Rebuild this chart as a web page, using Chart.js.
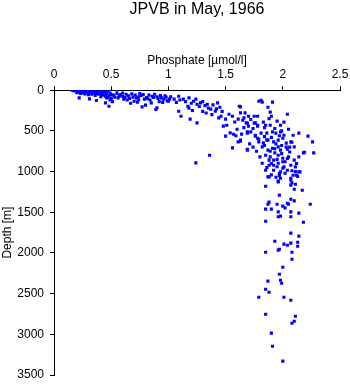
<!DOCTYPE html>
<html>
<head>
<meta charset="utf-8">
<script src="https://cdn.jsdelivr.net/npm/chart.js@4/dist/chart.umd.min.js"></script>
<style>
html,body{margin:0;padding:0;background:#fff;}
#wrap{width:350px;height:384px;}
</style>
</head>
<body>
<div id="wrap"><canvas id="c" width="350" height="384"></canvas></div>
<script>
const chartTitle = "JPVB in May, 1966";
const xTitle = "Phosphate [\u00b5mol/l]";
const yTitle = "Depth [m]";
const phosphateTicks = [0, 0.5, 1, 1.5, 2, 2.5];
const depthTicks = [0, 500, 1000, 1500, 2000, 2500, 3000, 3500];

// surface layer
const surfaceP = [0.16,0.17,0.18,0.19,0.20,0.21,0.22,0.23,0.24,0.25,
  0.26,0.27,0.28,0.29,0.30,0.31,0.32,0.33,0.34,0.35,
  0.36,0.37,0.38,0.39,0.40,0.41,0.42,0.43,0.44,0.45,
  0.46,0.47,0.48,0.49,0.50,0.20,0.23,0.27,0.30,0.33,
  0.25,0.29,0.35,0.38,0.42,0.45,0.47,0.41,0.36,0.22,
  0.31,0.37,0.45,0.48,0.46,0.52,0.55,0.57,0.53,0.50,
  0.49,0.51];
const surfaceD = [0,5,0,10,0,5,15,0,8,20,
  0,12,5,25,0,10,30,5,18,0,
  40,10,25,5,50,15,0,30,60,20,
  45,10,70,35,55,30,40,45,55,50,
  35,15,30,45,55,75,90,80,65,95,
  107,127,156,197,95,60,0,74,85,100,
  120,140];

// upper nutricline
const upperP = [0.55,0.58,0.60,0.61,0.63,0.65,0.67,0.68,0.70,0.71,
  0.73,0.74,0.75,0.77,0.78,0.80,0.81,0.83,0.85,0.86,
  0.88,0.89,0.90,0.91,0.93,0.94,0.96,0.97,0.99,1.01,
  0.62,0.66,0.72,0.79,0.84,0.87,0.92,0.95,0.98,0.60,
  0.69,0.76,0.82,0.90,0.56,0.64,0.74];
const upperD = [40,55,35,110,50,70,160,45,135,60,
  147,80,40,205,55,184,90,60,156,75,
  50,237,217,100,65,95,110,70,130,110,
  90,100,95,110,120,90,140,150,85,75,
  85,65,105,80,95,120,118];

// mid nutricline
const midP = [1.00,1.02,1.05,1.07,1.09,1.10,1.13,1.15,1.17,1.18,
  1.20,1.22,1.24,1.25,1.27,1.28,1.30,1.32,1.34,1.35,
  1.37,1.39,1.41,1.43,1.45,1.46,1.48,1.50,1.09,1.11,
  1.19,1.25,1.18,1.30,1.38,1.42,1.53,1.56,1.54,1.57,
  1.36,1.24,1.50,1.51,1.47,1.44,1.33,1.21];
const midD = [135,80,110,150,74,120,110,140,197,95,
  160,135,110,172,200,156,140,190,172,220,
  233,180,258,156,210,320,442,356,258,320,
  356,402,220,260,300,230,295,320,524,541,
  799,893,565,430,260,340,280,250];

// lower nutricline
const lowerP = [1.61,1.63,1.62,1.63,1.66,1.68,1.70,1.75,1.76,1.78,
  1.79,1.81,1.82,1.67,1.70,1.78,1.65,1.69,1.75,1.78,
  1.63,1.69,1.56,1.76,1.79,1.80,1.69,1.72,1.76,1.63,
  1.78,1.79,1.69,1.61,1.69,1.60,1.58,1.72,1.74,1.66,
  1.59,1.71,1.74,1.77,1.64];
const lowerD = [356,279,197,205,340,402,442,320,402,442,
  135,123,147,279,320,320,369,405,405,430,
  627,725,709,565,602,820,528,512,553,614,
  590,635,737,635,512,480,390,360,470,460,
  560,660,700,750,540];

// intermediate water
const interP = [1.91,1.87,1.89,1.90,2.04,1.83,1.85,1.89,1.98,2.01,
  1.81,1.86,1.91,1.94,1.98,2.01,2.09,2.14,2.22,1.83,
  1.87,1.92,1.96,2.00,2.03,2.07,2.26,1.82,1.87,1.91,
  1.96,1.98,2.04,2.10,2.18,2.27,1.85,1.89,1.96,2.00,
  2.05,2.10,2.14,1.82,1.88,1.92,1.96,2.01,2.07,2.11,
  2.14,1.85,1.92,1.98,2.04,2.09,1.87,1.94,1.98,2.07,
  2.19,1.84,1.93,1.88,1.95,2.05,1.90,1.84,1.94,1.99,
  2.06,1.93,2.02,1.88,1.95,2.08,1.90,2.00,2.12,
  1.86,1.97,2.03,1.92,2.08,1.99,1.89,2.02,1.95,2.11,
  1.84,1.93,2.00,2.06,1.97,1.90,2.04,1.86,2.13,1.99];
const interD = [147,209,270,320,295,393,430,430,430,393,
  528,528,512,528,512,553,553,528,565,647,
  614,635,614,590,651,635,635,696,737,713,
  696,737,725,696,770,770,799,819,799,836,
  819,860,819,897,922,922,897,942,922,942,
  1004,983,983,1004,983,1045,1065,1070,1082,1082,
  762,460,470,350,380,480,580,570,660,680,
  760,770,880,860,850,990,1040,960,900,
  610,560,700,860,640,780,750,1020,940,1000,
  680,720,880,700,1050,900,840,950,1060,500];

// deep water
const deepP = [1.88,1.96,1.97,2.07,2.08,2.11,2.12,2.15,1.85,2.10,
  2.17,1.97,2.07,2.10,1.88,1.87,1.95,2.00,2.04,2.05,
  2.24,1.85,1.90,2.02,2.07,1.96,2.14,1.96,1.98,2.07,
  1.85,2.18,2.07,2.14,1.93,2.01,2.04,2.07,2.13,2.13,
  1.96,1.97,1.85,2.08,2.08,2.00,1.97,1.87,1.98,1.99,
  1.85,1.88,1.79,2.01,2.07,1.85,2.11,2.10,2.08,1.90,
  1.91,2.00,2.07,1.96];
const deepD = [1065,1127,1020,1106,1139,1155,1045,1004,1180,1217,
  1229,1290,1340,1360,1376,1401,1401,1425,1389,1401,
  1401,1462,1462,1446,1495,1495,1511,1556,1548,1556,
  1610,1622,1757,1794,1856,1892,1905,1880,1868,1917,
  1966,1954,1991,1991,2077,2175,2261,2347,2335,2372,
  2446,2483,2544,2544,2581,2753,2778,2839,2864,2986,
  3146,3330,1167,1118];

const phosphate = [].concat(surfaceP, upperP, midP, lowerP, interP, deepP);
const depth = [].concat(surfaceD, upperD, midD, lowerD, interD, deepD);
const points = phosphate.map((p, i) => ({x: p, y: depth[i]}));

const FONT = "'Liberation Sans', Arial, Helvetica, sans-serif";

new Chart(document.getElementById('c'), {
  type: 'scatter',
  data: {
    datasets: [{
      data: points,
      pointStyle: 'rect',
      pointRadius: 2.2,
      pointHoverRadius: 2.2,
      pointBorderWidth: 0,
      backgroundColor: '#0000ff',
      borderColor: '#0000ff'
    }]
  },
  options: {
    responsive: false,
    devicePixelRatio: 1,
    animation: false,
    events: [],
    layout: { padding: { left: 0, right: 10, top: 0, bottom: 9 } },
    plugins: {
      legend: { display: false },
      tooltip: { enabled: false },
      title: {
        display: true,
        text: chartTitle,
        fullSize: false,
        color: '#000',
        font: { family: FONT, size: 16, weight: 'normal', lineHeight: 1.2 },
        padding: { top: 0, bottom: 0 }
      }
    },
    scales: {
      x: {
        type: 'linear',
        position: 'top',
        min: 0, max: 2.5,
        afterBuildTicks: (s) => { s.ticks = phosphateTicks.map(v => ({value: v})); },
        afterFit: (s) => { s.height = 71; s.paddingLeft = 0; s.paddingRight = 0; },
        ticks: {
          color: '#000',
          padding: 4,
          maxRotation: 0,
          font: { family: FONT, size: 12 },
          callback: (v) => String(v)
        },
        grid: { drawOnChartArea: false, drawTicks: true, tickLength: 4, color: '#000', tickColor: '#000' },
        border: { display: true, color: '#000', width: 1 },
        title: {
          display: true,
          text: xTitle,
          color: '#000',
          font: { family: FONT, size: 12, lineHeight: 1.2 },
          padding: { top: 34, bottom: 0 }
        }
      },
      y: {
        type: 'linear',
        position: 'left',
        reverse: true,
        min: 0, max: 3500,
        afterBuildTicks: (s) => { s.ticks = depthTicks.map(v => ({value: v})); },
        afterFit: (s) => { s.width = 54; s.paddingTop = 0; s.paddingBottom = 0; },
        ticks: {
          color: '#000',
          padding: 6,
          font: { family: FONT, size: 12 },
          callback: (v) => String(v)
        },
        grid: { drawOnChartArea: false, drawTicks: true, tickLength: 4, color: '#000', tickColor: '#000' },
        border: { display: true, color: '#000', width: 1 },
        title: {
          display: true,
          text: yTitle,
          color: '#000',
          font: { family: FONT, size: 12, lineHeight: 1.2 },
          padding: { top: 0, bottom: 0 }
        }
      }
    }
  }
});
</script>
</body>
</html>
